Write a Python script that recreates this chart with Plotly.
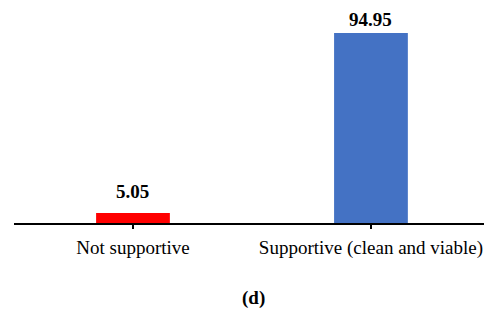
import plotly.graph_objects as go

categories = ["Not supportive", "Supportive (clean and viable)"]
values = [5.05, 94.95]
value_labels = ["5.05", "94.95"]
bar_colors = ["#FF0000", "#4472C4"]
label_offsets_px = [21, 14]  # label centre distance above bar top

fig = go.Figure()
fig.add_trace(go.Bar(
    x=categories, y=values,
    marker=dict(color=bar_colors, line=dict(width=0)),
    width=0.31,
    hoverinfo="skip",
))

annotations = [
    dict(x=c, y=v, xref="x", yref="y", text=f"<b>{t}</b>", showarrow=False,
         xanchor="center", yanchor="middle", yshift=s,
         font=dict(family="Liberation Serif", size=19, color="black"))
    for c, v, t, s in zip(categories, values, value_labels, label_offsets_px)
]
annotations.append(dict(
    text="<b>(d)</b>", xref="paper", yref="paper",
    x=(253 - 14) / 470, y=-0.375, xanchor="center", yanchor="middle",
    showarrow=False, font=dict(family="Liberation Serif", size=19, color="black"),
))

fig.update_layout(
    width=484, height=311,
    margin=dict(l=14, r=0, t=23, b=88, autoexpand=False),
    plot_bgcolor="white", paper_bgcolor="white",
    showlegend=False,
    font=dict(family="Liberation Serif", size=19, color="black"),
    xaxis=dict(
        range=[-0.5, 1.475], automargin=False,
        showline=True, linecolor="black", linewidth=2,
        ticks="outside", ticklen=4, tickwidth=2, tickcolor="black",
        tickfont=dict(family="Liberation Serif", size=19, color="black"),
        ticklabelstandoff=2,
        showgrid=False,
    ),
    yaxis=dict(range=[0, 100], visible=False, showgrid=False, zeroline=False,
               automargin=False),
    annotations=annotations,
)

fig.write_html(
    "out.html",
    config={"displayModeBar": False, "staticPlot": True},
    post_script="document.body.style.margin='0';document.body.style.overflow='hidden';",
)
